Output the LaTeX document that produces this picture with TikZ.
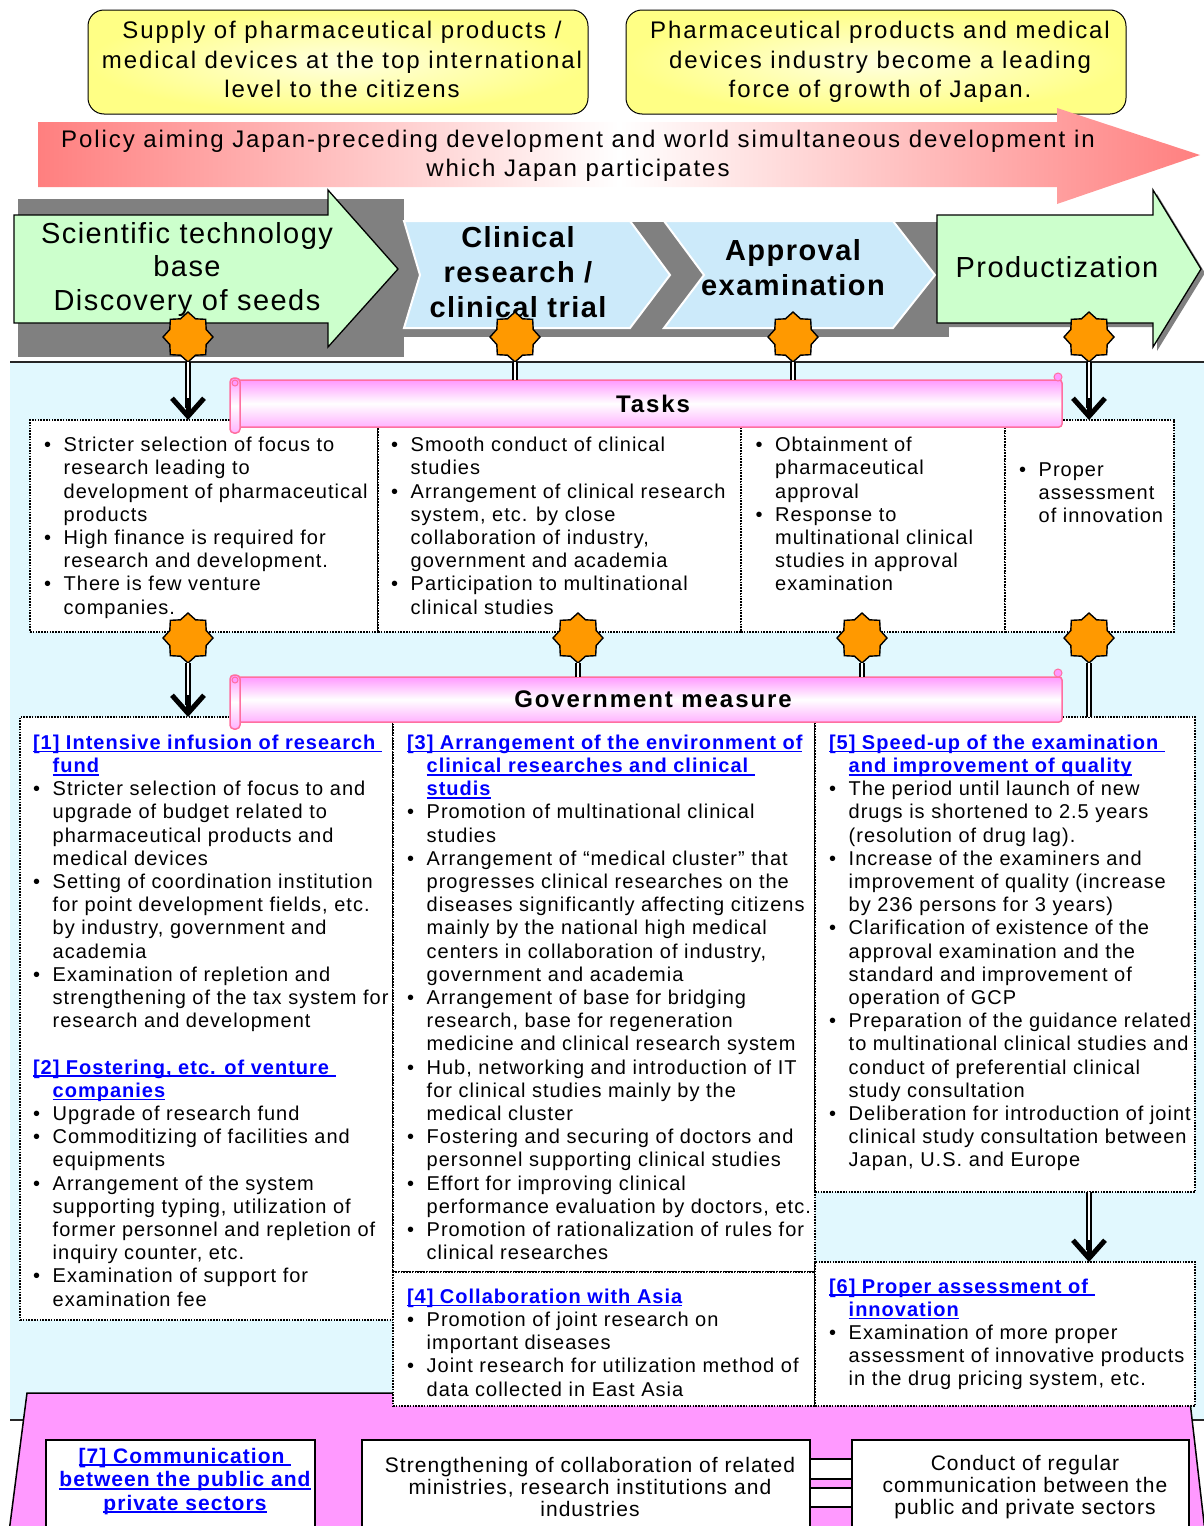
\documentclass[tikz,border=0pt]{standalone}
\usepackage{fontspec}
\setmainfont{Liberation Sans}[LetterSpace=5]
\newfontfamily\widefont{Liberation Sans}[LetterSpace=8]
\usetikzlibrary{shapes.geometric,arrows.meta,calc}
\definecolor{ylw}{HTML}{FFFF85}
\definecolor{ylwin}{HTML}{FFFFE0}
\definecolor{redar}{HTML}{FF7F7F}
\definecolor{grn}{HTML}{CCFFCC}
\definecolor{chev}{HTML}{CCEAFA}
\definecolor{shadowg}{HTML}{808080}
\definecolor{skyb}{HTML}{E1F8FE}
\definecolor{staror}{HTML}{FF9900}
\definecolor{pinkbg}{HTML}{FF99FF}
\definecolor{bnline}{HTML}{FF6FA0}
\definecolor{bntop}{HTML}{FF99FF}
\definecolor{bnbot}{HTML}{FFB3FF}
\definecolor{hdblue}{HTML}{0000FF}
\newcommand\bu{\makebox[19.7pt][l]{\textbullet}}
\newcommand\ii{\leavevmode\hspace*{19.7pt}}
\newcommand\hd[1]{\leavevmode{\bfseries\color{hdblue}\setbox0=\hbox{#1}\rlap{\rule[-3pt]{\wd0}{1.7pt}}\box0}}
\tikzset{
  ybox/.style={draw=black, line width=1pt, rounded corners=16pt, inner color=ylwin, outer color=ylw, anchor=north west, minimum width=500pt, minimum height=104pt},
  dbox/.style={draw=black, fill=white, line width=1.9pt, dash pattern=on 1.6pt off 1.2pt, anchor=north west},
  wbox/.style={draw=black, fill=white, line width=1.3pt, anchor=north west},
  banner/.style={draw=bnline, line width=1.5pt, top color=bntop, bottom color=bnbot, middle color=white, anchor=north west, minimum width=826pt, font=\widefont\bfseries\fontsize{24}{28}\selectfont, rounded corners=3pt},
  starn/.style={star, star points=8, star point ratio=1.27, minimum size=50pt, fill=staror, draw=black, line width=1.4pt},
  dbl/.style={draw=black, line width=1.9pt, double=white, double distance=1.8pt},
  barb/.style={line width=5pt, -{Straight Barb[length=18pt,width=32pt,line width=5pt]}},
  txt/.style={anchor=base west, font=\fontsize{20}{23.2}\selectfont},
  ctr/.style={anchor=base},
}
\begin{document}
\begin{tikzpicture}[x=1pt,y=-1pt,every node/.style={inner sep=0pt,outer sep=0pt}]
\useasboundingbox (0,0) rectangle (1204,1526);
% ---------- goals ----------
\node[ybox] (y1) at (88,10) {};
\node[ybox] (y2) at (626,10) {};
\node[ctr] (y1t) at (342,38.5) {\parbox[t]{520pt}{\centering\widefont\fontsize{24}{29.5}\selectfont Supply of pharmaceutical products /\\medical devices at the top international\\level to the citizens}};
\node[ctr] (y2t) at (880,38.5) {\parbox[t]{520pt}{\centering\widefont\fontsize{24}{29.5}\selectfont Pharmaceutical products and medical\\devices industry become a leading\\force of growth of Japan.}};
% ---------- policy arrow ----------
\shade[left color=redar, right color=redar, middle color=white] (38,122) -- (1057,122) -- (1057,108) -- (1200,155) -- (1057,204) -- (1057,187) -- (38,187) -- cycle;
\node[ctr] (pol) at (578,147) {\parbox[t]{1150pt}{\centering\widefont\fontsize{24}{29}\selectfont Policy aiming Japan-preceding development and world simultaneous development in\\which Japan participates}};
% ---------- stages ----------
\fill[shadowg] (18,199) rectangle (404,357);
\fill[shadowg] (404,222) rectangle (949,337);
\draw[fill=grn, line width=1.3pt] (14,215) -- (328,215) -- (328,190) -- (398,269) -- (328,347) -- (328,323) -- (14,323) -- cycle;
\draw[fill=chev, draw=white, line width=2pt] (404,221) -- (630,221) -- (670,275) -- (630,328) -- (404,328) -- (420,275) -- cycle;
\draw[fill=chev, draw=white, line width=2pt] (664,221) -- (893,221) -- (935,275) -- (893,328) -- (664,328) -- (704,275) -- cycle;
\fill[shadowg] (941,219) -- (1157,219) -- (1157,194) -- (1205,273) -- (1157,351) -- (1157,327) -- (941,327) -- cycle;
\draw[fill=grn, line width=1.3pt] (937,215) -- (1153,215) -- (1153,190) -- (1201,269) -- (1153,347) -- (1153,323) -- (937,323) -- cycle;
\node[ctr] (st1) at (187,243) {\parbox[t]{400pt}{\centering\fontsize{29}{33.5}\selectfont Scientific technology\\base\\Discovery of seeds}};
\node[ctr] (st2) at (518,247) {\parbox[t]{300pt}{\centering\bfseries\fontsize{29}{35}\selectfont Clinical\\research /\\clinical trial}};
\node[ctr] (st3) at (793,260) {\parbox[t]{300pt}{\centering\bfseries\fontsize{29}{35}\selectfont Approval\\examination}};
\node[ctr] (st4) at (1057,277) {\parbox[t]{300pt}{\centering\fontsize{29}{35}\selectfont Productization}};
% ---------- background areas ----------
\fill[skyb] (10,363) rectangle (1204,1420);
\draw[line width=2pt, black!85] (10,362) -- (1204,362);
\draw[line width=2pt, black!85] (10,1420) -- (1204,1420);
\draw[fill=pinkbg, line width=1.5pt] (27,1393) -- (1189,1393) -- (1206,1540) -- (8,1540) -- cycle;
% ---------- tasks ----------
\node[dbox, minimum width=348pt, minimum height=212pt] (t1) at (30,420) {};
\node[dbox, minimum width=363pt, minimum height=212pt] (t2) at (378,420) {};
\node[dbox, minimum width=264pt, minimum height=212pt] (t3) at (741,420) {};
\node[dbox, minimum width=169pt, minimum height=212pt] (t4) at (1005,420) {};
\node[txt] (t1x) at (44,451.7) {\parbox[t]{340pt}{\raggedright
\bu Stricter selection of focus to\\
\ii research leading to\\
\ii development of pharmaceutical\\
\ii products\\
\bu High finance is required for\\
\ii research and development.\\
\bu There is few venture\\
\ii companies.}};
\node[txt] (t2x) at (391,451.7) {\parbox[t]{360pt}{\raggedright
\bu Smooth conduct of clinical\\
\ii studies\\
\bu Arrangement of clinical research\\
\ii system, etc. by close\\
\ii collaboration of industry,\\
\ii government and academia\\
\bu Participation to multinational\\
\ii clinical studies}};
\node[txt] (t3x) at (755.5,451.7) {\parbox[t]{260pt}{\raggedright
\bu Obtainment of\\
\ii pharmaceutical\\
\ii approval\\
\bu Response to\\
\ii multinational clinical\\
\ii studies in approval\\
\ii examination}};
\node[txt] (t4x) at (1019,476.5) {\parbox[t]{160pt}{\raggedright
\bu Proper\\
\ii assessment\\
\ii of innovation}};
% ---------- government measures ----------
\node[dbox, minimum width=373pt, minimum height=603pt] (g1) at (20,717) {};
\node[dbox, minimum width=422pt, minimum height=555pt] (g3) at (393,717) {};
\node[dbox, minimum width=422pt, minimum height=134pt] (g4) at (393,1272) {};
\node[dbox, minimum width=380pt, minimum height=475pt] (g5) at (815,717) {};
\node[dbox, minimum width=380pt, minimum height=144pt] (g6) at (815,1262) {};
\node[txt] (g1x) at (33,749.3) {\parbox[t]{380pt}{\raggedright
\hd{[1] Intensive infusion of research\ }\\
\ii\hd{fund}\\
\bu Stricter selection of focus to and\\
\ii upgrade of budget related to\\
\ii pharmaceutical products and\\
\ii medical devices\\
\bu Setting of coordination institution\\
\ii for point development fields, etc.\\
\ii by industry, government and\\
\ii academia\\
\bu Examination of repletion and\\
\ii strengthening of the tax system for\\
\ii research and development\\
\mbox{}\\
\hd{[2] Fostering, etc. of venture\ }\\
\ii\hd{companies}\\
\bu Upgrade of research fund\\
\bu Commoditizing of facilities and\\
\ii equipments\\
\bu Arrangement of the system\\
\ii supporting typing, utilization of\\
\ii former personnel and repletion of\\
\ii inquiry counter, etc.\\
\bu Examination of support for\\
\ii examination fee}};
\node[txt] (g3x) at (407,749.3) {\parbox[t]{420pt}{\raggedright
\hd{[3] Arrangement of the environment of}\\
\ii\hd{clinical researches and clinical\ }\\
\ii\hd{studis}\\
\bu Promotion of multinational clinical\\
\ii studies\\
\bu Arrangement of “medical cluster” that\\
\ii progresses clinical researches on the\\
\ii diseases significantly affecting citizens\\
\ii mainly by the national high medical\\
\ii centers in collaboration of industry,\\
\ii government and academia\\
\bu Arrangement of base for bridging\\
\ii research, base for regeneration\\
\ii medicine and clinical research system\\
\bu Hub, networking and introduction of IT\\
\ii for clinical studies mainly by the\\
\ii medical cluster\\
\bu Fostering and securing of doctors and\\
\ii personnel supporting clinical studies\\
\bu Effort for improving clinical\\
\ii performance evaluation by doctors, etc.\\
\bu Promotion of rationalization of rules for\\
\ii clinical researches}};
\node[txt] (g4x) at (407,1303.3) {\parbox[t]{420pt}{\raggedright
\hd{[4] Collaboration with Asia}\\
\bu Promotion of joint research on\\
\ii important diseases\\
\bu Joint research for utilization method of\\
\ii data collected in East Asia}};
\node[txt] (g5x) at (829,749.3) {\parbox[t]{380pt}{\raggedright
\hd{[5] Speed-up of the examination\ }\\
\ii\hd{and improvement of quality}\\
\bu The period until launch of new\\
\ii drugs is shortened to 2.5 years\\
\ii (resolution of drug lag).\\
\bu Increase of the examiners and\\
\ii improvement of quality (increase\\
\ii by 236 persons for 3 years)\\
\bu Clarification of existence of the\\
\ii approval examination and the\\
\ii standard and improvement of\\
\ii operation of GCP\\
\bu Preparation of the guidance related\\
\ii to multinational clinical studies and\\
\ii conduct of preferential clinical\\
\ii study consultation\\
\bu Deliberation for introduction of joint\\
\ii clinical study consultation between\\
\ii Japan, U.S. and Europe}};
\node[txt] (g6x) at (829,1293) {\parbox[t]{380pt}{\raggedright
\hd{[6] Proper assessment of\ }\\
\ii\hd{innovation}\\
\bu Examination of more proper\\
\ii assessment of innovative products\\
\ii in the drug pricing system, etc.}};
% ---------- communication ----------
\node[wbox, minimum width=269pt, minimum height=100pt] (b7) at (46,1440) {};
\node[wbox, minimum width=448pt, minimum height=100pt] (b8) at (362,1440) {};
\node[wbox, minimum width=337pt, minimum height=100pt] (b9) at (852,1440) {};
\node[ctr] (b7x) at (185,1463) {\parbox[t]{300pt}{\centering\fontsize{21}{23.5}\selectfont \hd{[7] Communication\ }\\\hd{between the public and}\\\hd{private sectors}}};
\node[ctr] (b8x) at (590,1472) {\parbox[t]{460pt}{\centering\fontsize{21}{22}\selectfont Strengthening of collaboration of related\\ministries, research institutions and\\industries}};
\node[ctr] (b9x) at (1025,1470) {\parbox[t]{360pt}{\centering\fontsize{21}{22}\selectfont Conduct of regular\\communication between the\\public and private sectors}};
\draw[line width=1.2pt, fill=white] ($(b8.north east)+(0,19)$) rectangle ($(b9.north west)+(0,39)$);
\draw[line width=1.2pt, fill=white] ($(b8.north east)+(0,48)$) rectangle ($(b9.north west)+(0,67)$);
% ---------- banners ----------
\node[banner, minimum height=47pt] (tasks) at (236,380) {\hspace*{8pt}Tasks};
\node[banner, minimum height=45pt] (gov) at (236,677) {\hspace*{8pt}Government measure};
\draw[draw=bnline, line width=1.5pt, top color=bntop, bottom color=bnbot, middle color=white, rounded corners=4pt] (230,378) rectangle (240,433);
\draw[draw=bnline, line width=1pt, fill=bntop] (235,383) circle (3);
\draw[draw=bnline, line width=1pt, fill=bntop] (1058,377) circle (4);
\draw[draw=bnline, line width=1.5pt, top color=bntop, bottom color=bnbot, middle color=white, rounded corners=4pt] (230,675) rectangle (240,729);
\draw[draw=bnline, line width=1pt, fill=bntop] (235,680) circle (3);
\draw[draw=bnline, line width=1pt, fill=bntop] (1058,673) circle (4);
% ---------- stars ----------
\node[starn] (s1) at (188,337) {};
\node[starn] (s2) at (515,337) {};
\node[starn] (s3) at (793,337) {};
\node[starn] (s4) at (1089,337) {};
\node[starn] (m1) at (188,638) {};
\node[starn] (m2) at (578,638) {};
\node[starn] (m3) at (862,638) {};
\node[starn] (m4) at (1089,638) {};
% ---------- connectors ----------
\draw[dbl, shorten >=12pt] (s1) -- (s1 |- t1.north);
\draw[barb] ($(s1 |- t1.north)+(0,-22)$) -- (s1 |- t1.north);
\draw[dbl] (s2) -- (s2 |- tasks.north);
\draw[dbl] (s3) -- (s3 |- tasks.north);
\draw[dbl, shorten >=12pt] (s4) -- (s4 |- t4.north);
\draw[barb] ($(s4 |- t4.north)+(0,-22)$) -- (s4 |- t4.north);
\draw[dbl, shorten >=12pt] (m1) -- (m1 |- g1.north);
\draw[barb] ($(m1 |- g1.north)+(0,-22)$) -- (m1 |- g1.north);
\draw[dbl] (m2) -- (m2 |- gov.north);
\draw[dbl] (m3) -- (m3 |- gov.north);
\draw[dbl] (m4) -- (m4 |- g5.north);
\draw[dbl, shorten >=12pt] (g5.south -| m4) -- (g6.north -| m4);
\draw[barb] ($(g6.north -| m4)+(0,-22)$) -- (g6.north -| m4);
\end{tikzpicture}
\end{document}
